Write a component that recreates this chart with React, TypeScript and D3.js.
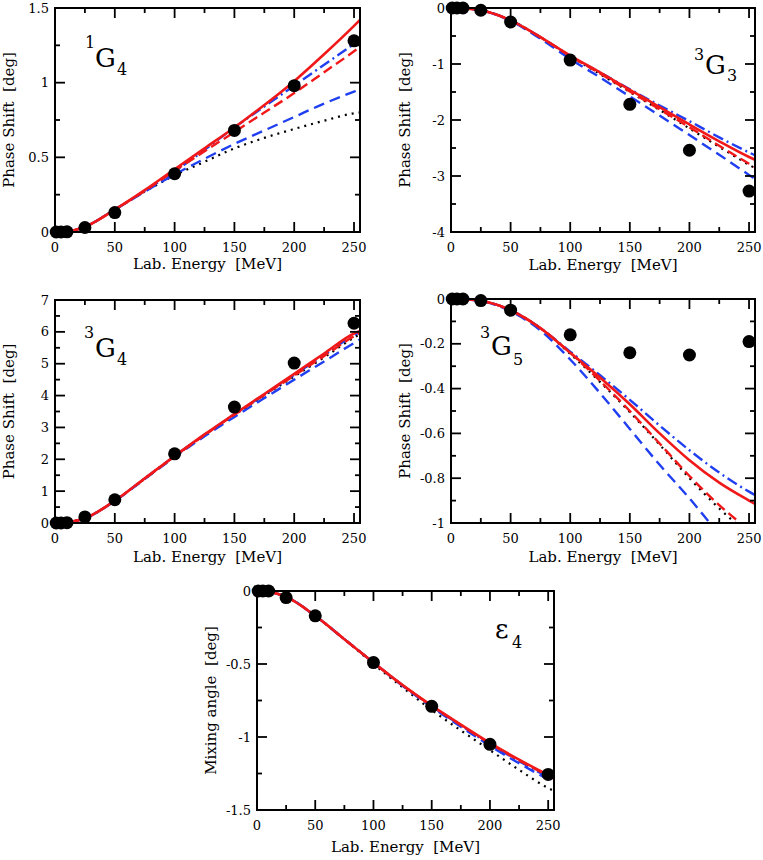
import React, { useEffect, useRef } from 'react';
import * as d3 from 'd3';

// lab energies of the data points [MeV]
const pointEnergies = [1, 5, 10, 25, 50, 100, 150, 200, 250];
const curveEnergies = [0, 5, 10, 25, 50, 75, 100, 125, 150, 175, 200, 225, 250, 255];

const xTicks = [0, 50, 100, 150, 200, 250];
const xDomain = [0, 255];

// 1G4
const g14Points = [0, 0, 0.001, 0.03, 0.13, 0.39, 0.68, 0.98, 1.28];
const g14Dotted = [0, 0, 0.002, 0.035, 0.15, 0.27, 0.38, 0.47, 0.56, 0.63, 0.69, 0.745, 0.795, 0.8];
const g14BlueDashed = [0, 0, 0.002, 0.035, 0.15, 0.27, 0.385, 0.49, 0.59, 0.68, 0.77, 0.86, 0.94, 0.955];
const g14BlueDashDot = [0, 0, 0.002, 0.035, 0.15, 0.275, 0.405, 0.55, 0.7, 0.84, 0.98, 1.12, 1.26, 1.29];
const g14RedDashed = [0, 0, 0.002, 0.035, 0.15, 0.275, 0.41, 0.54, 0.67, 0.8, 0.93, 1.07, 1.21, 1.24];
const g14RedSolid = [0, 0, 0.002, 0.035, 0.15, 0.28, 0.42, 0.56, 0.7, 0.85, 1.01, 1.19, 1.38, 1.42];
const g14YTicks = [0, 0.5, 1, 1.5];

// 3G3
const g33Points = [0, 0, 0, -0.04, -0.25, -0.93, -1.72, -2.54, -3.27];
const g33Dotted = [0, 0, -0.005, -0.04, -0.22, -0.52, -0.86, -1.18, -1.5, -1.82, -2.15, -2.48, -2.8, -2.86];
const g33BlueDashed = [0, 0, -0.005, -0.04, -0.23, -0.55, -0.91, -1.24, -1.58, -1.92, -2.27, -2.62, -2.98, -3.05];
const g33BlueDashDot = [0, 0, -0.005, -0.04, -0.22, -0.52, -0.86, -1.15, -1.45, -1.74, -2.02, -2.31, -2.58, -2.63];
const g33RedDashed = [0, 0, -0.005, -0.04, -0.22, -0.52, -0.86, -1.17, -1.49, -1.81, -2.13, -2.46, -2.78, -2.84];
const g33RedSolid = [0, 0, -0.005, -0.04, -0.22, -0.52, -0.85, -1.15, -1.46, -1.77, -2.08, -2.38, -2.66, -2.71];
const g33YTicks = [-4, -3, -2, -1, 0];

// 3G4
const g34Points = [0, 0, 0.01, 0.19, 0.73, 2.17, 3.64, 5.02, 6.27];
const g34Dotted = [0, 0, 0.02, 0.15, 0.7, 1.39, 2.09, 2.76, 3.39, 4.0, 4.6, 5.2, 5.82, 5.93];
const g34BlueDashed = [0, 0, 0.02, 0.15, 0.69, 1.38, 2.07, 2.72, 3.33, 3.92, 4.5, 5.07, 5.65, 5.76];
const g34BlueDashDot = [0, 0, 0.02, 0.15, 0.7, 1.4, 2.1, 2.77, 3.41, 4.03, 4.65, 5.27, 5.9, 6.0];
const g34RedDashed = [0, 0, 0.02, 0.15, 0.7, 1.39, 2.09, 2.76, 3.4, 4.02, 4.63, 5.24, 5.86, 5.96];
const g34RedSolid = [0, 0, 0.02, 0.15, 0.7, 1.4, 2.1, 2.78, 3.42, 4.05, 4.68, 5.32, 5.95, 6.03];
const g34YTicks = [0, 1, 2, 3, 4, 5, 6, 7];

// 3G5
const g35Points = [0, 0, 0, -0.007, -0.05, -0.16, -0.24, -0.25, -0.19];
const g35Dotted = [0, 0, -0.001, -0.008, -0.05, -0.13, -0.245, -0.37, -0.505, -0.65, -0.8, -0.935, -1.05, -1.07];
const g35BlueDashed = [0, 0, -0.001, -0.009, -0.055, -0.14, -0.27, -0.42, -0.58, -0.74, -0.89, -1.05, -1.2, -1.23];
const g35BlueDashDot = [0, 0, -0.001, -0.008, -0.05, -0.13, -0.235, -0.34, -0.45, -0.565, -0.675, -0.775, -0.86, -0.875];
const g35RedDashed = [0, 0, -0.001, -0.008, -0.05, -0.13, -0.24, -0.365, -0.5, -0.645, -0.79, -0.92, -1.03, -1.05];
const g35RedSolid = [0, 0, -0.001, -0.008, -0.05, -0.13, -0.24, -0.35, -0.47, -0.6, -0.72, -0.82, -0.9, -0.915];
const g35YTicks = [-1, -0.8, -0.6, -0.4, -0.2, 0];

// epsilon 4
const e4Points = [0, 0, 0, -0.045, -0.17, -0.49, -0.79, -1.05, -1.256];
const e4Dotted = [0, 0, -0.005, -0.04, -0.17, -0.33, -0.5, -0.66, -0.815, -0.955, -1.09, -1.225, -1.35, -1.37];
const e4BlueDashed = [0, 0, -0.005, -0.04, -0.17, -0.33, -0.49, -0.65, -0.795, -0.93, -1.06, -1.18, -1.29, -1.31];
const e4BlueDashDot = [0, 0, -0.005, -0.04, -0.17, -0.33, -0.49, -0.645, -0.79, -0.92, -1.05, -1.165, -1.275, -1.295];
const e4RedDashed = [0, 0, -0.005, -0.04, -0.17, -0.33, -0.49, -0.645, -0.787, -0.918, -1.045, -1.16, -1.265, -1.285];
const e4RedSolid = [0, 0, -0.005, -0.04, -0.17, -0.33, -0.49, -0.645, -0.785, -0.915, -1.04, -1.155, -1.26, -1.28];
const e4YTicks = [-1.5, -1, -0.5, 0];

// drawing order: dotted first, red solid on top
const lineStyles = [
  { color: '#000', dash: '2,5', width: 2.2 },
  { color: '#1f3ff0', dash: '11,6', width: 2.4 },
  { color: '#1f3ff0', dash: '11,4,2,4', width: 2.4 },
  { color: '#f01818', dash: '10,5', width: 2.4 },
  { color: '#f01818', dash: null, width: 2.6 },
];

const FONT = 'DejaVu Serif, Liberation Serif, serif';

type Label = { sup?: string; main: string; sub: string; supX?: number; supY?: number; mainX: number; mainY: number; subX: number; subY: number };

const panels = [
  {
    key: 'g14', left: 55, top: 8, width: 305, height: 224,
    yDomain: [0, 1.5], yTicks: g14YTicks, yTitle: 'Phase Shift  [deg]', xTitleGap: 37,
    curves: [g14Dotted, g14BlueDashed, g14BlueDashDot, g14RedDashed, g14RedSolid], points: g14Points,
    label: { sup: '1', main: 'G', sub: '4', supX: 30, supY: 40, mainX: 40, mainY: 59, subX: 62, subY: 67 } as Label,
  },
  {
    key: 'g33', left: 451, top: 8, width: 304, height: 224,
    yDomain: [-4, 0], yTicks: g33YTicks, yTitle: 'Phase Shift  [deg]', xTitleGap: 38,
    curves: [g33Dotted, g33BlueDashed, g33BlueDashDot, g33RedDashed, g33RedSolid], points: g33Points,
    label: { sup: '3', main: 'G', sub: '3', supX: 243, supY: 52, mainX: 254, mainY: 66, subX: 276, subY: 73 } as Label,
  },
  {
    key: 'g34', left: 55, top: 300, width: 305, height: 223,
    yDomain: [0, 7], yTicks: g34YTicks, yTitle: 'Phase Shift  [deg]', xTitleGap: 39,
    curves: [g34Dotted, g34BlueDashed, g34BlueDashDot, g34RedDashed, g34RedSolid], points: g34Points,
    label: { sup: '3', main: 'G', sub: '4', supX: 29, supY: 38, mainX: 40, mainY: 57, subX: 62, subY: 65 } as Label,
  },
  {
    key: 'g35', left: 451, top: 299, width: 304, height: 224,
    yDomain: [-1, 0], yTicks: g35YTicks, yTitle: 'Phase Shift  [deg]', xTitleGap: 39,
    curves: [g35Dotted, g35BlueDashed, g35BlueDashDot, g35RedDashed, g35RedSolid], points: g35Points,
    label: { sup: '3', main: 'G', sub: '5', supX: 29, supY: 39, mainX: 40, mainY: 56, subX: 62, subY: 66 } as Label,
  },
  {
    key: 'e4', left: 257, top: 591, width: 297, height: 219,
    yDomain: [-1.5, 0], yTicks: e4YTicks, yTitle: 'Mixing angle  [deg]', xTitleGap: 42,
    curves: [e4Dotted, e4BlueDashed, e4BlueDashDot, e4RedDashed, e4RedSolid], points: e4Points,
    label: { main: '\u03b5', sub: '4', mainX: 238, mainY: 47, subX: 255, subY: 57 } as Label,
  },
];

function drawPanel(svg: any, p: any) {
  const { left, top, width, height } = p;
  const right = left + width;
  const bottom = top + height;
  const x = d3.scaleLinear().domain(xDomain).range([left, right]);
  const y = d3.scaleLinear().domain(p.yDomain).range([bottom, top]);

  const g = svg.append('g').attr('font-family', FONT);

  // clip the curves to the frame
  const clipId = 'clip-' + p.key;
  g.append('clipPath').attr('id', clipId)
    .append('rect')
    .attr('x', left).attr('y', top)
    .attr('width', width).attr('height', height);

  const line = d3.line<number>()
    .x((d, i) => x(curveEnergies[i]))
    .y(d => y(d))
    .curve(d3.curveMonotoneX);

  p.curves.forEach((vals: number[], i: number) => {
    const s = lineStyles[i];
    g.append('path')
      .attr('d', line(vals))
      .attr('fill', 'none')
      .attr('stroke', s.color)
      .attr('stroke-width', s.width)
      .attr('stroke-dasharray', s.dash)
      .attr('clip-path', `url(#${clipId})`);
  });

  // data points
  g.selectAll('circle.pt')
    .data(p.points)
    .enter()
    .append('circle')
      .attr('class', 'pt')
      .attr('cx', (d: number, i: number) => x(pointEnergies[i]))
      .attr('cy', (d: number) => y(d))
      .attr('r', 6.5)
      .attr('fill', '#000');

  // ticks on all four sides, pointing in
  const major = 10;
  const minor = 5;
  const ticks = g.append('g').attr('stroke', '#000').attr('stroke-width', 1.8);
  const xMinor = d3.pairs(xTicks).map(([a, b]) => (a + b) / 2);
  const yMinor = d3.pairs(p.yTicks as number[]).map(([a, b]) => (a + b) / 2);
  xTicks.forEach(t => {
    ticks.append('line').attr('x1', x(t)).attr('x2', x(t)).attr('y1', bottom).attr('y2', bottom - major);
    ticks.append('line').attr('x1', x(t)).attr('x2', x(t)).attr('y1', top).attr('y2', top + major);
  });
  xMinor.forEach(t => {
    ticks.append('line').attr('x1', x(t)).attr('x2', x(t)).attr('y1', bottom).attr('y2', bottom - minor);
    ticks.append('line').attr('x1', x(t)).attr('x2', x(t)).attr('y1', top).attr('y2', top + minor);
  });
  p.yTicks.forEach((t: number) => {
    ticks.append('line').attr('x1', left).attr('x2', left + major).attr('y1', y(t)).attr('y2', y(t));
    ticks.append('line').attr('x1', right).attr('x2', right - major).attr('y1', y(t)).attr('y2', y(t));
  });
  yMinor.forEach(t => {
    ticks.append('line').attr('x1', left).attr('x2', left + minor).attr('y1', y(t)).attr('y2', y(t));
    ticks.append('line').attr('x1', right).attr('x2', right - minor).attr('y1', y(t)).attr('y2', y(t));
  });

  // frame
  g.append('rect')
    .attr('x', left).attr('y', top)
    .attr('width', width).attr('height', height)
    .attr('fill', 'none')
    .attr('stroke', '#000')
    .attr('stroke-width', 2);

  // tick labels
  g.selectAll('text.xt')
    .data(xTicks)
    .enter()
    .append('text')
      .attr('class', 'xt')
      .attr('x', (d: number) => x(d))
      .attr('y', bottom + 20)
      .attr('text-anchor', 'middle')
      .attr('font-size', 13)
      .text((d: number) => String(d));

  g.selectAll('text.yt')
    .data(p.yTicks)
    .enter()
    .append('text')
      .attr('class', 'yt')
      .attr('x', left - 6)
      .attr('y', (d: number) => y(d))
      .attr('dy', '0.35em')
      .attr('text-anchor', 'end')
      .attr('font-size', 13)
      .text((d: number) => String(d));

  // axis titles
  g.append('text')
    .attr('x', (left + right) / 2)
    .attr('y', bottom + p.xTitleGap)
    .attr('text-anchor', 'middle')
    .attr('font-size', 15)
    .style('white-space', 'pre')
    .text('Lab. Energy  [MeV]');

  g.append('text')
    .attr('transform', `translate(${left - 41}, ${(top + bottom) / 2}) rotate(-90)`)
    .attr('text-anchor', 'middle')
    .attr('font-size', 15)
    .style('white-space', 'pre')
    .text(p.yTitle);

  // partial wave label
  const lab: Label = p.label;
  if (lab.sup) {
    g.append('text')
      .attr('x', left + (lab.supX as number)).attr('y', top + (lab.supY as number))
      .attr('font-size', 16)
      .text(lab.sup);
  }
  g.append('text')
    .attr('x', left + lab.mainX).attr('y', top + lab.mainY)
    .attr('font-size', 26)
    .text(lab.main);
  g.append('text')
    .attr('x', left + lab.subX).attr('y', top + lab.subY)
    .attr('font-size', 16)
    .text(lab.sub);
}

export default function App() {
  const ref = useRef<SVGSVGElement>(null);

  useEffect(() => {
    const svg = d3.select(ref.current);
    svg.selectAll('*').remove();
    panels.forEach(p => drawPanel(svg, p));
  }, []);

  return (
    <svg
      ref={ref}
      width={763}
      height={860}
      style={{ position: 'absolute', left: 0, top: 0, background: '#fff' }}
    />
  );
}
